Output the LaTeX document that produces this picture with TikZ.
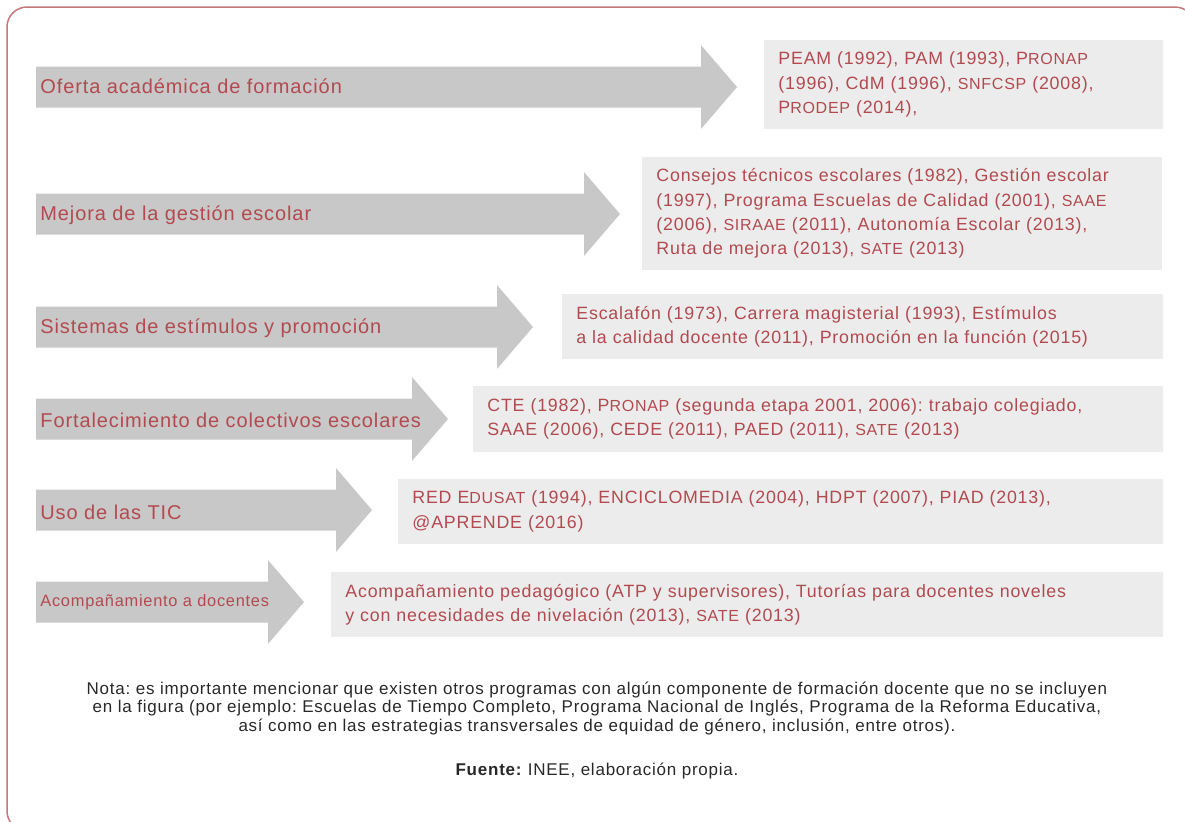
\documentclass[tikz,border=0pt]{standalone}
\usepackage{fontspec}
\setmainfont{Liberation Sans}[LetterSpace=4.5]
\usepackage{tikz}
\usetikzlibrary{positioning}
\frenchspacing

\definecolor{arrowgray}{RGB}{200,200,200}
\definecolor{boxgray}{RGB}{236,236,236}
\definecolor{textred}{RGB}{178,74,80}
\definecolor{framered}{RGB}{196,120,124}
\definecolor{notegray}{RGB}{40,40,40}

% smaller capitals for the acronyms
\newcommand{\acr}[1]{\scalebox{0.9}{#1}}

\begin{document}
\begin{tikzpicture}[x=0.5pt, y=-0.5pt,
    bigarrow/.style={fill=arrowgray},
    rowlabel/.style={anchor=west, inner sep=0pt, text=textred, font=\fontsize{10}{12}\selectfont},
    progbox/.style={anchor=west, fill=boxgray, text=textred, align=left, inner xsep=7pt, inner ysep=0pt, font=\fontsize{8.9}{12.2}\selectfont},
    notetext/.style={align=center, text=notegray, font=\fontsize{8.5}{9.25}\selectfont}
]

    \clip (0,0) rectangle (1185,821);

    % === Frame ===
    \draw[framered, line width=0.75pt, rounded corners=10pt] (7,7) rectangle (1195,831);

    % === Arrows ===
    \foreach \cy/\hx in {87/701, 214/584, 327/497, 419/412, 510/336, 602/268}
        \fill[bigarrow] (36,\cy-20.5) -- (\hx,\cy-20.5) -- (\hx,\cy-42) -- (\hx+36,\cy)
            -- (\hx,\cy+42) -- (\hx,\cy+20.5) -- (36,\cy+20.5) -- cycle;

    \node[rowlabel] (lab1) at (40,86) {Oferta académica de formación};
    \node[rowlabel] (lab2) at (40,215) {Mejora de la gestión escolar};
    \node[rowlabel] (lab3) at (40,328) {Sistemas de estímulos y promoción};
    \node[rowlabel] (lab4) at (40,420) {Fortalecimiento de colectivos escolares};
    \node[rowlabel] (lab5) at (40,512) {Uso de las TIC};
    \node[rowlabel, font=\fontsize{8.2}{10}\selectfont] (lab6) at (40,602) {Acompañamiento a docentes};

    % === Programs ===
    \node[progbox, text width=185.5pt, minimum height=44.5pt] (prog1) at (764,84.5)
        {PEAM (1992), PAM (1993), P\acr{RONAP}\\(1996), CdM (1996), \acr{SNFCSP} (2008),\\P\acr{RODEP} (2014),};
    \node[progbox, text width=246pt, minimum height=56.5pt] (prog2) at (642,213.5)
        {Consejos técnicos escolares (1982), Gestión escolar\\(1997), Programa Escuelas de Calidad (2001), \acr{SAAE}\\(2006), \acr{SIRAAE} (2011), Autonomía Escolar (2013),\\Ruta de mejora (2013), \acr{SATE} (2013)};
    \node[progbox, text width=286.5pt, minimum height=32.5pt] (prog3) at (562,326.5)
        {Escalafón (1973), Carrera magisterial (1993), Estímulos\\a la calidad docente (2011), Promoción en la función (2015)};
    \node[progbox, text width=331pt, minimum height=33pt] (prog4) at (473,419)
        {CTE (1982), P\acr{RONAP} (segunda etapa 2001, 2006): trabajo colegiado,\\SAAE (2006), CEDE (2011), PAED (2011), \acr{SATE} (2013)};
    \node[progbox, text width=368.5pt, minimum height=32.5pt] (prog5) at (398,511.5)
        {RED E\acr{DUSAT} (1994), ENCICLOMEDIA (2004), HDPT (2007), PIAD (2013),\\@APRENDE (2016)};
    \node[progbox, text width=402pt, minimum height=32.5pt] (prog6) at (331,604.5)
        {Acompañamiento pedagógico (ATP y supervisores), Tutorías para docentes noveles\\y con necesidades de nivelación (2013), \acr{SATE} (2013)};

    % === Note ===
    \node[notetext] (nota) at (597,708)
        {Nota: es importante mencionar que existen otros programas con algún componente de formación docente que no se incluyen\\
         en la figura (por ejemplo: Escuelas de Tiempo Completo, Programa Nacional de Inglés, Programa de la Reforma Educativa,\\
         así como en las estrategias transversales de equidad de género, inclusión, entre otros).};
    \node[notetext] (fuente) at (597,771) {\textbf{Fuente:} INEE, elaboración propia.};

\end{tikzpicture}
\end{document}
